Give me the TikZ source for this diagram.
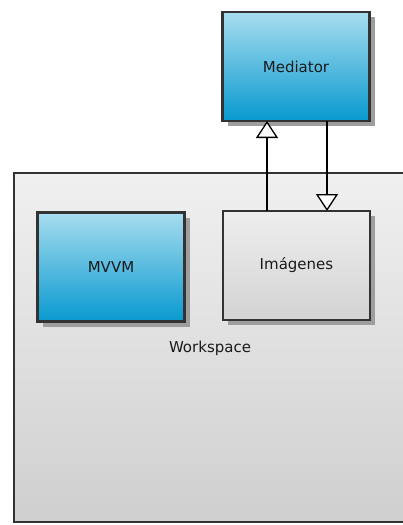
\documentclass[tikz,border=0pt]{standalone}
\usepackage{fontspec}
\setmainfont{DejaVu Sans}
\usetikzlibrary{arrows.meta,shadows}
\definecolor{bordc}{HTML}{333333}
\definecolor{txtc}{HTML}{1A1A1A}
\definecolor{bluetop}{HTML}{A8DDEF}
\definecolor{bluebot}{HTML}{0899CF}
\definecolor{greytop}{HTML}{EEEEEE}
\definecolor{greybot}{HTML}{D3D3D3}
\definecolor{wstop}{HTML}{F0F0F0}
\definecolor{wsbot}{HTML}{CFCFCF}
\tikzset{
  box/.style={draw=bordc, line width=2.5pt, minimum width=147pt, minimum height=109pt,
    inner sep=0pt, outer sep=0pt, text=txtc, font=\fontsize{15}{18}\selectfont,
    drop shadow={shadow xshift=5pt, shadow yshift=-5pt, fill=black!38, opacity=1}},
  bluebox/.style={box, shading=axis, top color=bluetop, bottom color=bluebot},
  greybox/.style={box, shading=axis, top color=greytop, bottom color=greybot},
  arr/.style={line width=1.3pt, draw=black, -{Triangle[length=17pt, width=22pt, fill=white, line width=1.3pt]}},
  lbl/.style={text=txtc, font=\fontsize{15}{18}\selectfont, inner sep=0pt}
}
\begin{document}
\begin{tikzpicture}[x=1pt, y=-1pt]
\useasboundingbox (0,0) rectangle (403,525);
\clip (0,0) rectangle (403,525);
\node[draw=bordc, line width=2.5pt, shading=axis, top color=wstop, bottom color=wsbot,
  minimum width=396pt, minimum height=349pt, inner sep=0pt, outer sep=0pt] (ws) at (212.2,347.5) {};
\node[lbl] (wslabel) at (210,348) {Workspace};
\node[bluebox] (med) at (296,66.5) {Mediator};
\node[bluebox] (mvvm) at (111,267) {MVVM};
\node[greybox] (img) at (296.5,265.5) {Imágenes};
\draw[arr] ([xshift=-29.5pt]img.north) -- ([xshift=-29.5pt]img.north |- med.south);
\draw[arr] ([xshift=31pt]med.south) -- ([xshift=31pt]med.south |- img.north);
\end{tikzpicture}
\end{document}
